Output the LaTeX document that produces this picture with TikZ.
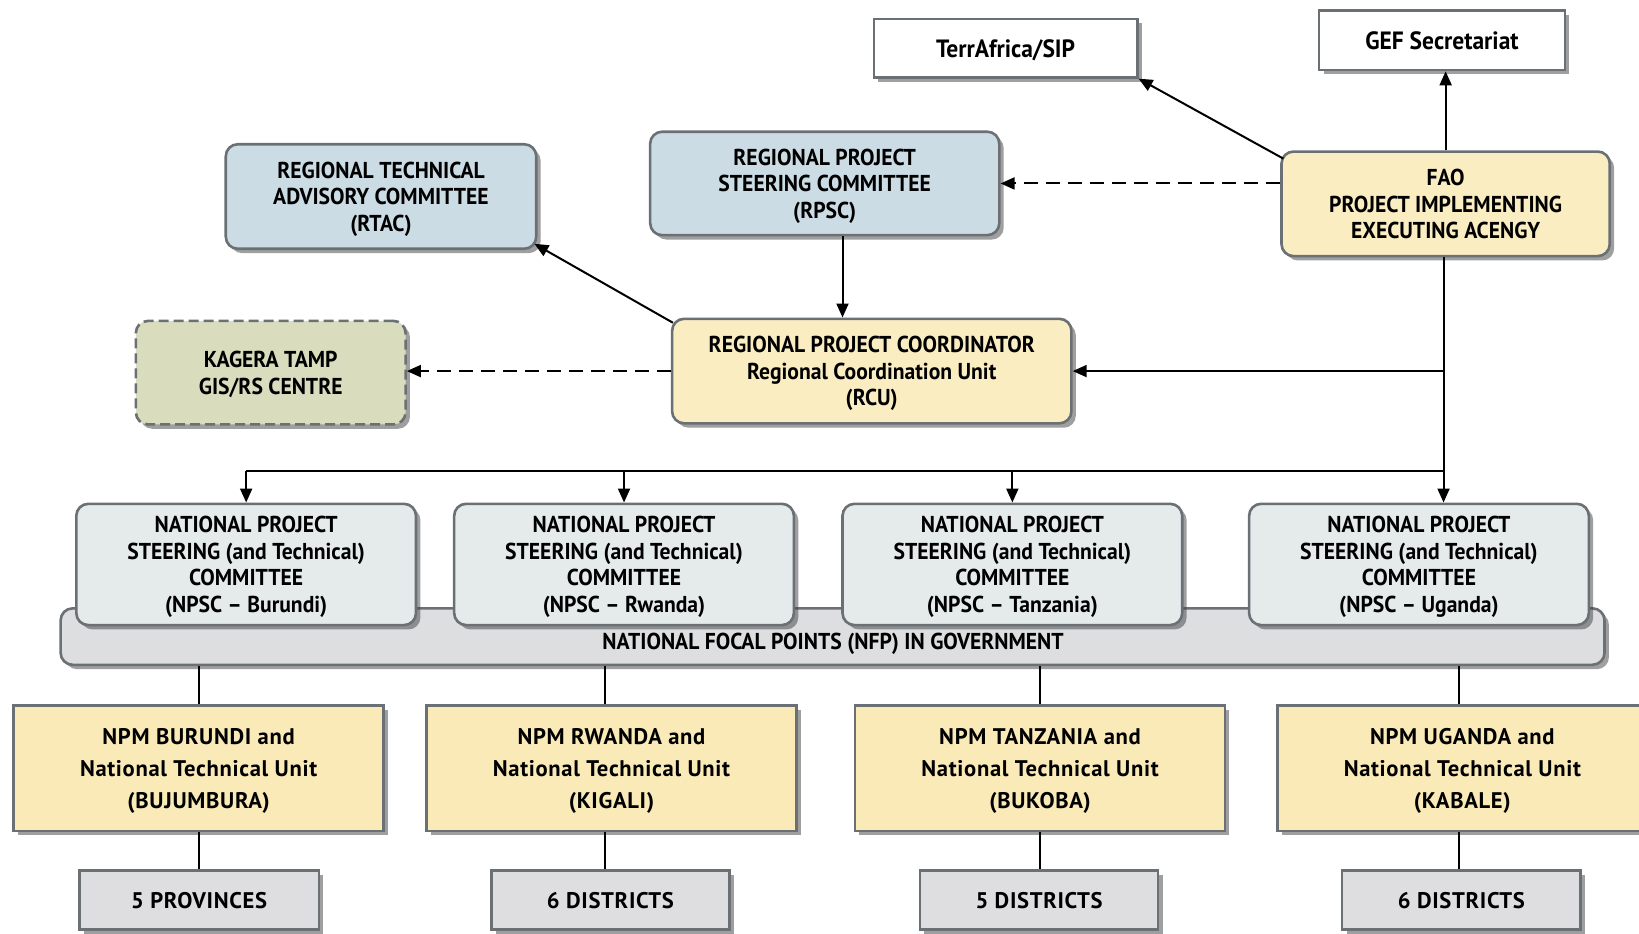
\documentclass[tikz,border=0pt]{standalone}
\usepackage{fontspec}
\setmainfont{PT Sans}[FakeStretch=0.94]
\newfontfamily\widefont{PT Sans}[LetterSpace=3]
\usetikzlibrary{arrows.meta,shadows,calc}
\definecolor{bordercol}{HTML}{6B7075}
\definecolor{bluefill}{HTML}{CCDCE5}
\definecolor{yellowfill}{HTML}{FAEDC2}
\definecolor{npmfill}{HTML}{F9EAB8}
\definecolor{olivefill}{HTML}{D9DDBE}
\definecolor{npscfill}{HTML}{E5EBEB}
\definecolor{barfill}{HTML}{DCDEE0}
\definecolor{distfill}{HTML}{DEDEE0}
\begin{document}
\begin{tikzpicture}[x=0.5227pt,y=-0.5227pt,
  wh/.style 2 args={minimum width=#1*0.5227pt, minimum height=#2*0.5227pt},
  base/.style={draw=bordercol, line width=1.3pt, align=center, inner sep=0pt,
    font=\fontsize{11.5}{13.3}\selectfont\bfseries, text depth=0pt,
    drop shadow={shadow xshift=2.2pt, shadow yshift=-2.2pt, opacity=0.5, fill=black!75}},
  rbox/.style={base, rounded corners=6pt},
  sbox/.style={base},
  lowtext/.style={text depth=-2pt},
  npmtext/.style={font=\widefont\fontsize{11.3}{16}\selectfont\bfseries},
  arr/.style={draw=black, line width=1pt, -{Triangle[length=7pt,width=6pt]}},
  darr/.style={arr, dash pattern=on 7pt off 4pt},
  plain/.style={draw=black, line width=1pt}]
\clip (0,0) rectangle (1568,893);
\fill[white] (0,0) rectangle (1568,893);

% top boxes
\node[sbox, fill=white, wh={252}{56}, font=\fontsize{12.5}{14}\selectfont\bfseries] (terra) at (962,46) {TerrAfrica/SIP};
\node[sbox, fill=white, wh={235}{57}, font=\fontsize{12.5}{14}\selectfont\bfseries] (gef) at (1379.5,38.5) {GEF Secretariat};

\node[rbox, fill=bluefill, wh={297}{100}] (rtac) at (364.5,188) {REGIONAL TECHNICAL\\ADVISORY COMMITTEE\\(RTAC)};
\node[rbox, fill=bluefill, wh={334}{99}] (rpsc) at (789,175.5) {REGIONAL PROJECT\\STEERING COMMITTEE\\(RPSC)};
\node[rbox, fill=yellowfill, wh={314}{100}] (fao) at (1383,195) {FAO\\PROJECT IMPLEMENTING\\EXECUTING ACENGY};

\node[rbox, fill=olivefill, dash pattern=on 5pt off 2.5pt, wh={258}{99}] (kagera) at (259,356.5) {KAGERA TAMP\\GIS/RS CENTRE};
\node[rbox, fill=yellowfill, wh={382}{100}] (rcu) at (834,355) {REGIONAL PROJECT COORDINATOR\\Regional Coordination Unit\\(RCU)};

% national focal points bar
\node[rbox, fill=barfill, wh={1477}{54}] (nfp) at (796.5,609) {};
\node[font=\fontsize{11.5}{13.3}\selectfont\bfseries] (nfptext) at (797,616) {NATIONAL FOCAL POINTS (NFP) IN GOVERNMENT};

% NPSC boxes
\node[rbox, lowtext, fill=npscfill, wh={325}{116}] (npscB) at (235.5,540) {NATIONAL PROJECT\\STEERING (and Technical)\\COMMITTEE\\(NPSC -- Burundi)};
\node[rbox, lowtext, fill=npscfill, wh={325}{116}] (npscR) at (597,540) {NATIONAL PROJECT\\STEERING (and Technical)\\COMMITTEE\\(NPSC -- Rwanda)};
\node[rbox, lowtext, fill=npscfill, wh={325}{116}] (npscT) at (968.5,540) {NATIONAL PROJECT\\STEERING (and Technical)\\COMMITTEE\\(NPSC -- Tanzania)};
\node[rbox, lowtext, fill=npscfill, wh={325}{116}] (npscU) at (1357.5,540) {NATIONAL PROJECT\\STEERING (and Technical)\\COMMITTEE\\(NPSC -- Uganda)};

% NPM boxes
\node[sbox, npmtext, lowtext, fill=npmfill, wh={354}{120}] (npmB) at (190,735) {NPM BURUNDI and\\National Technical Unit\\(BUJUMBURA)};
\node[sbox, npmtext, lowtext, fill=npmfill, wh={354}{120}] (npmR) at (585,735) {NPM RWANDA and\\National Technical Unit\\(KIGALI)};
\node[sbox, npmtext, lowtext, fill=npmfill, wh={354}{120}] (npmT) at (995,735) {NPM TANZANIA and\\National Technical Unit\\(BUKOBA)};
\node[sbox, npmtext, lowtext, fill=npmfill, wh={354}{120}] (npmU) at (1399,735) {NPM UGANDA and\\National Technical Unit\\(KABALE)};

% district boxes
\node[sbox, npmtext, fill=distfill, wh={229}{56}] (distB) at (190.5,861) {5 PROVINCES};
\node[sbox, npmtext, fill=distfill, wh={228}{56}] (distR) at (584,861) {6 DISTRICTS};
\node[sbox, npmtext, fill=distfill, wh={228}{56}] (distT) at (994,861) {5 DISTRICTS};
\node[sbox, npmtext, fill=distfill, wh={228}{56}] (distU) at (1398,861) {6 DISTRICTS};

% connectors
\coordinate (faonw) at ($(fao.north west)+(3,8)$);
\draw[arr] (faonw) -- (terra.south east);
\draw[arr] (fao.north) -- (fao.north |- gef.south);
\draw[darr] (fao.west |- rpsc.east) -- (rpsc.east);
\coordinate (rpscout) at ($(rpsc.south)+(17,0)$);
\draw[arr] (rpscout) -- (rpscout |- rcu.north);
\coordinate (rcunw) at ($(rcu.north west)+(2,5)$);
\coordinate (rtacse) at ($(rtac.south east)+(-3,-6)$);
\draw[arr] (rcunw) -- (rtacse);
\draw[darr] (rcu.west) -- (rcu.west -| kagera.east);

\coordinate (bus) at ($(fao.south)+(-2,0)$);
\draw[arr] (bus) -- (bus |- npscU.north);
\draw[arr] (bus |- rcu.east) -- (rcu.east);
\coordinate (busR) at ($(bus)+(0,204)$);
\draw[plain] (busR) -- (busR -| npscB.north);
\draw[arr] (busR -| npscB.north) -- (npscB.north);
\draw[arr] (busR -| npscR.north) -- (npscR.north);
\draw[arr] (busR -| npscT.north) -- (npscT.north);

\coordinate (vB) at (npmB.north);
\coordinate (vR) at ($(npmR.north)+(-6,0)$);
\coordinate (vT) at (npmT.north);
\coordinate (vU) at ($(npmU.north)+(-3,0)$);
\draw[plain] (vB |- nfp.south) -- (vB);
\draw[plain] (vR |- nfp.south) -- (vR);
\draw[plain] (vT |- nfp.south) -- (vT);
\draw[plain] (vU |- nfp.south) -- (vU);

\draw[plain] (vB |- npmB.south) -- (vB |- distB.north);
\draw[plain] (vR |- npmR.south) -- (vR |- distR.north);
\draw[plain] (vT |- npmT.south) -- (vT |- distT.north);
\draw[plain] (vU |- npmU.south) -- (vU |- distU.north);
\end{tikzpicture}
\end{document}
